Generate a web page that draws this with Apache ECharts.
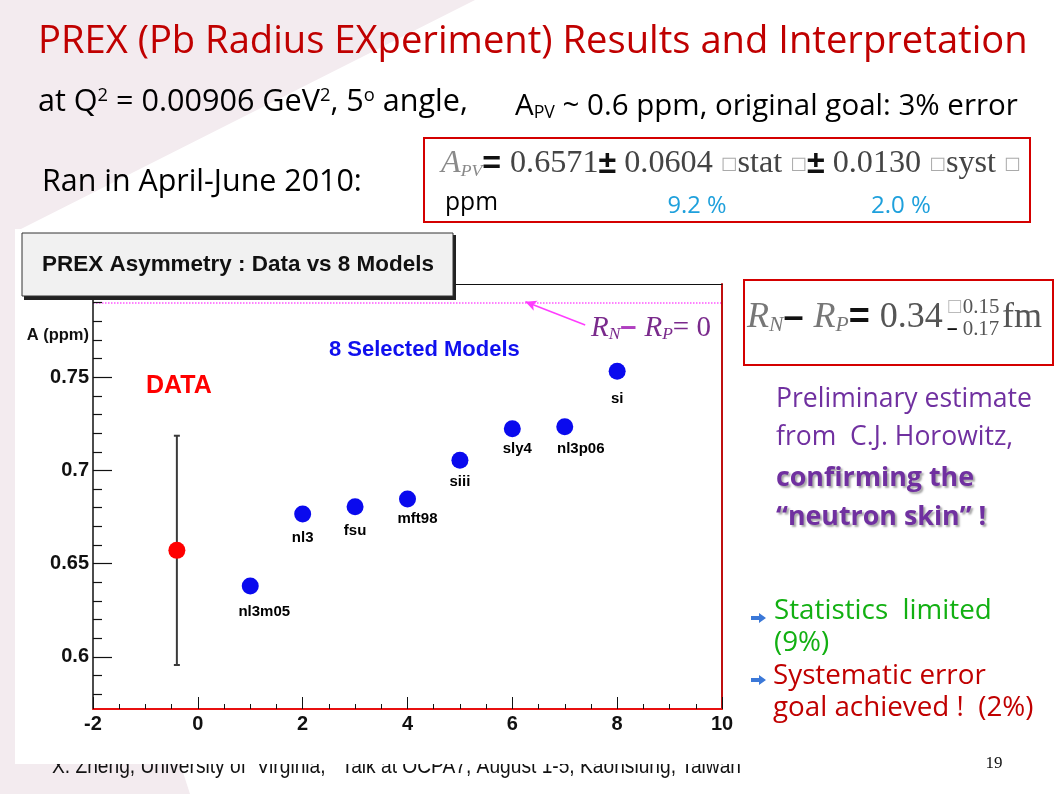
<!DOCTYPE html>
<html><head><meta charset="utf-8">
<script src="https://cdn.jsdelivr.net/npm/echarts@6.0.0/dist/echarts.min.js"></script>
<style>html,body{margin:0;padding:0;background:#fff}#c{width:1058px;height:794px}</style>
</head><body><div id="c"></div>
<script>
// ---------------- data ----------------
const modelNames = ['nl3m05', 'nl3', 'fsu', 'mft98', 'siii', 'sly4', 'nl3p06', 'si'];
const modelX = [1, 2, 3, 4, 5, 6, 7, 8];
const modelA = [0.6380, 0.6766, 0.6805, 0.6847, 0.7054, 0.7224, 0.7234, 0.7532];
const dataX = [-0.4];
const dataA = [0.6571];
const dataErr = [0.0615];
const zeroSkinA = 0.7912;            // A for R_N - R_P = 0
const arrowFrom = [7.39, 0.778];
const arrowTo = [6.25, 0.7905];
const xMin = -2, xMax = 10, xStep = 2;
const yMin = 0.572, yMax = 0.80;
const yMajorTicks = [0.6, 0.65, 0.7, 0.75];
const yMinorTicks = [0.58, 0.59, 0.61, 0.62, 0.63, 0.64, 0.66, 0.67, 0.68, 0.69,
                     0.71, 0.72, 0.73, 0.74, 0.76, 0.77, 0.78, 0.79];
// label offsets (style only)
const labelOffsets = [[14, 26], [0, 24], [0, 24], [10, 20], [0, 22], [5, 20], [16, 22], [0, 28]];

// ---------------- helpers ----------------
const mctx = document.createElement('canvas').getContext('2d');
function tokFont(tk, size) {
  return (tk.i ? 'italic ' : '') + (tk.b ? 'bold ' : '') + (size * (tk.r || 1)) + 'px ' + tk.f;
}
function measureTokens(tokens) {
  let w = 0;
  tokens.forEach(tk => { mctx.font = tokFont(tk, 100); w += mctx.measureText(tk.t).width; });
  return w;
}
function fitBase(tokens, targetW) { return 100 * targetW / measureTokens(tokens); }
function richText(tokens, base, extra) {
  const rich = {}; let text = '';
  tokens.forEach((tk, k) => {
    const key = 't' + k;
    rich[key] = Object.assign({
      fontFamily: tk.f, fontSize: base * (tk.r || 1),
      fontStyle: tk.i ? 'italic' : 'normal', fontWeight: tk.b ? 'bold' : 'normal',
      fill: tk.c, verticalAlign: tk.v || 'middle', padding: tk.p || 0
    }, extra || {});
    text += '{' + key + '|' + tk.t + '}';
  });
  return { text, rich };
}

const SF = "'Open Sans'";
const SERIF = "'Liberation Serif'";
const AF = "'Liberation Sans'";
const RED = '#c00000', PURPLE = '#7030a0', GREEN = '#12b012', CYAN = '#1ea0dc';

function plainFit(text, family, bold, targetW) {
  return fitBase([{ t: text, f: family, b: bold }], targetW);
}
function textEl(x, y, text, size, family, color, opts) {
  opts = opts || {};
  const el = {
    type: 'text', x: x, y: y, z: opts.z || 20, silent: true,
    style: Object.assign({
      text: text, fontSize: size, fontFamily: family, fill: color,
      fontWeight: opts.bold ? 'bold' : 'normal', fontStyle: opts.italic ? 'italic' : 'normal',
      align: opts.align || 'left', verticalAlign: opts.va || 'middle'
    }, opts.style || {})
  };
  if (opts.scaleX) el.scaleX = opts.scaleX;
  if (opts.scaleY) el.scaleY = opts.scaleY;
  return el;
}
function richEl(x, y, tokens, base, opts) {
  opts = opts || {};
  const r = richText(tokens, base);
  return {
    type: 'text', x: x, y: y, z: opts.z || 20, silent: true,
    style: { text: r.text, rich: r.rich, align: opts.align || 'left', verticalAlign: 'middle' }
  };
}

// ---------------- slide texts ----------------
const slideTitle = 'PREX (Pb Radius EXperiment) Results and Interpretation';
const titleSize = plainFit(slideTitle, SF, false, 990);

const q2Tokens = [
  { t: 'at Q', f: SF, c: '#000' }, { t: '2', f: SF, c: '#000', r: 0.6, v: 'top' },
  { t: ' = 0.00906 GeV', f: SF, c: '#000' }, { t: '2', f: SF, c: '#000', r: 0.6, v: 'top' },
  { t: ', 5', f: SF, c: '#000' }, { t: 'o', f: SF, c: '#000', r: 0.6, v: 'top' },
  { t: ' angle,', f: SF, c: '#000' }
];
const apvTokens = [
  { t: 'A', f: SF, c: '#000' }, { t: 'PV', f: SF, c: '#000', r: 0.6, v: 'bottom' },
  { t: ' ~ 0.6 ppm, original goal: 3% error', f: SF, c: '#000' }
];
const q2Size = fitBase(q2Tokens, 430);
const apvSize = fitBase(apvTokens, 503);
const ranText = 'Ran in April-June 2010:';
const ranSize = plainFit(ranText, SF, false, 320);

const formulaTokens = [
  { t: 'A', f: SERIF, i: true, c: '#8a8a8a' },
  { t: 'PV', f: SERIF, i: true, c: '#8a8a8a', r: 0.55, v: 'bottom' },
  { t: '= ', f: AF, b: true, c: '#111' },
  { t: '0.6571', f: SERIF, c: '#444' },
  { t: '\u00b1', f: AF, b: true, c: '#111' },
  { t: ' 0.0604 ', f: SERIF, c: '#444' },
  { t: '\u25a1', f: "'DejaVu Sans'", c: '#aaa', r: 0.55 },
  { t: 'stat ', f: SERIF, c: '#444' },
  { t: '\u25a1', f: "'DejaVu Sans'", c: '#aaa', r: 0.55 },
  { t: '\u00b1', f: AF, b: true, c: '#111' },
  { t: ' 0.0130 ', f: SERIF, c: '#444' },
  { t: '\u25a1', f: "'DejaVu Sans'", c: '#aaa', r: 0.55 },
  { t: 'syst ', f: SERIF, c: '#444' },
  { t: '\u25a1', f: "'DejaVu Sans'", c: '#aaa', r: 0.55 }
];
const formulaSize = fitBase(formulaTokens, 580);

const rnTokens = [
  { t: 'R', f: SERIF, i: true, c: '#777' },
  { t: 'N', f: SERIF, i: true, c: '#777', r: 0.6, v: 'bottom' },
  { t: '\u2013 ', f: AF, b: true, c: '#111' },
  { t: 'R', f: SERIF, i: true, c: '#777' },
  { t: 'P', f: SERIF, i: true, c: '#777', r: 0.6, v: 'bottom' },
  { t: '= ', f: AF, b: true, c: '#111' },
  { t: '0.34', f: SERIF, c: '#555' }
];
const rnSize = fitBase(rnTokens, 196);

const rn0Tokens = [
  { t: 'R', f: SERIF, i: true, c: '#7a2a8c' },
  { t: 'N', f: SERIF, i: true, c: '#7a2a8c', r: 0.6, v: 'bottom' },
  { t: '\u2013 ', f: AF, b: true, c: '#b040c0' },
  { t: 'R', f: SERIF, i: true, c: '#7a2a8c' },
  { t: 'P', f: SERIF, i: true, c: '#7a2a8c', r: 0.6, v: 'bottom' },
  { t: '= 0', f: SERIF, c: '#7a2a8c' }
];
const rn0Size = fitBase(rn0Tokens, 120);

const purpleSize = plainFit('Preliminary estimate', SF, false, 256);
const purpleBoldSize = plainFit('confirming the', SF, true, 198);
const bulletSize = (plainFit('Statistics  limited', SF, false, 225) + plainFit('goal achieved !  (2%)', SF, false, 252)) / 2;

const footerText = 'X. Zheng, University of  Virginia,   Talk at OCPA7, August 1-5, Kaohsiung, Taiwan';
const footerFont = 22;
const footerScaleX = plainFit(footerText, AF, false, 689) / footerFont;

const boxTitle = 'PREX Asymmetry : Data vs 8 Models';
const boxTitleSize = plainFit(boxTitle, AF, true, 392);

function arrowBullet(x, y) {
  return {
    type: 'polygon', z: 20, silent: true,
    shape: { points: [[x, y - 2], [x + 8, y - 2], [x + 8, y - 5], [x + 15, y], [x + 8, y + 5], [x + 8, y + 2], [x, y + 2]] },
    style: { fill: '#3b78d8' }
  };
}

const graphics = [
  // pink slide decoration
  { type: 'polygon', z: 0, silent: true,
    shape: { points: [[0, 0], [475, 0], [15, 232], [15, 763], [180, 763], [190, 794], [0, 794]] },
    style: { fill: '#f3ebef' } },
  // footer (partly hidden by the ROOT canvas)
  textEl(52, 778, footerText, footerFont, AF, '#111', { z: 1, va: 'alphabetic', scaleX: footerScaleX, style: { verticalAlign: 'bottom' } }),
  // ROOT canvas
  { type: 'rect', z: 2, silent: true, shape: { x: 15, y: 229, width: 727, height: 535 }, style: { fill: '#fff' } },
  // ROOT title box
  { type: 'rect', z: 19, silent: true, shape: { x: 24, y: 235, width: 432, height: 65 }, style: { fill: '#222' } },
  { type: 'rect', z: 20, silent: true, shape: { x: 22, y: 233, width: 431, height: 63 }, style: { fill: '#f1f1f1', stroke: '#333', lineWidth: 1 } },
  textEl(238, 265, boxTitle, boxTitleSize, AF, '#111', { bold: true, align: 'center', z: 21 }),
  // chart annotations
  textEl(89, 335, 'A (ppm)', 16.5, AF, '#111', { bold: true, align: 'right' }),
  textEl(329, 350, '8 Selected Models', 22, AF, '#1010ee', { bold: true }),
  textEl(146, 386, 'DATA', 25, AF, '#ff0000', { bold: true }),
  richEl(591, 328, rn0Tokens, rn0Size),
  // slide title + lines
  textEl(38, 42, slideTitle, titleSize, SF, RED),
  richEl(38, 102, q2Tokens, q2Size),
  richEl(515, 107, apvTokens, apvSize),
  textEl(42, 182, ranText, ranSize, SF, '#000'),
  // A_PV box
  { type: 'rect', z: 20, silent: true, shape: { x: 424, y: 138, width: 606, height: 84 }, style: { fill: 'none', stroke: '#d40000', lineWidth: 2 } },
  richEl(441, 164, formulaTokens, formulaSize),
  textEl(445, 203, 'ppm', plainFit('ppm', SF, false, 53), SF, '#000'),
  textEl(697, 206, '9.2 %', plainFit('9.2 %', SF, false, 59), SF, CYAN, { align: 'center' }),
  textEl(901, 206, '2.0 %', plainFit('2.0 %', SF, false, 60), SF, CYAN, { align: 'center' }),
  // R_N - R_P box
  { type: 'rect', z: 20, silent: true, shape: { x: 744, y: 280, width: 309, height: 85 }, style: { fill: 'none', stroke: '#d40000', lineWidth: 2 } },
  richEl(747, 318, rnTokens, rnSize),
  richEl(947, 307, [{ t: '\u25a1', f: "'DejaVu Sans'", c: '#bbb', r: 0.8 }, { t: '0.15', f: SERIF, c: '#555' }], rnSize * 0.58),
  richEl(947, 329, [{ t: '\u2013 ', f: AF, b: true, c: '#111', r: 0.9 }, { t: '0.17', f: SERIF, c: '#555' }], rnSize * 0.58),
  textEl(1002, 318, 'fm', rnSize, SERIF, '#555'),
  // purple comments
  textEl(776, 399, 'Preliminary estimate', purpleSize, SF, PURPLE),
  textEl(776, 437, 'from  C.J. Horowitz,', purpleSize, SF, PURPLE),
  textEl(776, 478, 'confirming the', purpleBoldSize, SF, PURPLE, { bold: true, style: { textShadowColor: 'rgba(0,0,0,0.35)', textShadowBlur: 2, textShadowOffsetX: 2, textShadowOffsetY: 2 } }),
  textEl(776, 517, '\u201cneutron skin\u201d !', purpleBoldSize, SF, PURPLE, { bold: true, style: { textShadowColor: 'rgba(0,0,0,0.35)', textShadowBlur: 2, textShadowOffsetX: 2, textShadowOffsetY: 2 } }),
  // bullets
  arrowBullet(751, 618),
  arrowBullet(751, 680),
  textEl(774, 611, 'Statistics  limited', bulletSize, SF, GREEN),
  textEl(774, 643, '(9%)', bulletSize, SF, GREEN),
  textEl(773, 676, 'Systematic error', bulletSize, SF, RED),
  textEl(773, 708, 'goal achieved !  (2%)', bulletSize, SF, RED),
  // page number
  textEl(994, 764, '19', 17, SERIF, '#111', { align: 'center' })
];

// ---------------- chart ----------------
const chart = echarts.init(document.getElementById('c'), null, { renderer: 'canvas' });
const axisFont = { fontFamily: AF, fontWeight: 'bold', fontSize: 20, color: '#111' };

const option = {
  animation: false,
  backgroundColor: '#ffffff',
  grid: { left: 93, right: 336, top: 284, bottom: 85, outerBoundsMode: 'none', show: false },
  xAxis: [
    { type: 'value', min: xMin, max: xMax, interval: xStep, z: 5,
      axisLine: { show: true, onZero: false, lineStyle: { color: '#e81010', width: 2 } },
      axisTick: { show: true, inside: true, length: 12, lineStyle: { color: '#111', width: 1 } },
      minorTick: { show: true, splitNumber: 4, length: 5, lineStyle: { color: '#111', width: 1 } },
      splitLine: { show: false },
      axisLabel: Object.assign({ margin: 5 }, axisFont) },
    { type: 'value', position: 'top', min: xMin, max: xMax, z: 5,
      axisLine: { show: true, onZero: false, lineStyle: { color: '#111', width: 1 } },
      axisTick: { show: false }, axisLabel: { show: false }, splitLine: { show: false } }
  ],
  yAxis: [
    { type: 'value', min: yMin, max: yMax, z: 5,
      axisLine: { show: true, onZero: false, lineStyle: { color: '#111', width: 1.5 } },
      axisTick: { show: true, inside: true, length: 19, customValues: yMajorTicks, lineStyle: { color: '#111', width: 1.2 } },
      axisLabel: Object.assign({ margin: 4, customValues: yMajorTicks }, axisFont),
      splitLine: { show: false } },
    { type: 'value', min: yMin, max: yMax, position: 'left', offset: 0, z: 5,
      axisLine: { show: false, onZero: false },
      axisTick: { show: true, inside: true, length: 9, customValues: yMinorTicks, lineStyle: { color: '#111', width: 1.2 } },
      axisLabel: { show: false }, splitLine: { show: false } },
    { type: 'value', min: yMin, max: yMax, position: 'right', z: 5,
      axisLine: { show: true, onZero: false, lineStyle: { color: '#c01010', width: 2 } },
      axisTick: { show: false }, axisLabel: { show: false }, splitLine: { show: false } }
  ],
  graphic: { elements: graphics },
  series: [
    {
      type: 'scatter', name: 'Models', z: 8,
      data: modelX.map((x, i) => ({ value: [x, modelA[i]], name: modelNames[i],
        label: { offset: labelOffsets[i] } })),
      symbol: 'circle', symbolSize: 17,
      itemStyle: { color: '#0a0aee', opacity: 1 },
      label: { show: true, position: 'inside', formatter: p => p.name,
        fontFamily: AF, fontWeight: 'bold', fontSize: 15, color: '#000', opacity: 1,
        textBorderWidth: 0 },
      markLine: {
        silent: true, symbol: 'none', animation: false,
        label: { show: false },
        lineStyle: { type: 'dotted', color: '#ff55ff', width: 1.5 },
        data: [{ yAxis: zeroSkinA }]
      }
    },
    {
      type: 'custom', name: 'err', z: 7,
      data: dataX.map((x, i) => [x, dataA[i], dataErr[i]]),
      renderItem: function (params, api) {
        const x = api.value(0), y = api.value(1), e = api.value(2);
        const t = api.coord([x, y + e]), b = api.coord([x, y - e]);
        const st = { stroke: '#3a3a3a', lineWidth: 2 };
        return { type: 'group', children: [
          { type: 'line', shape: { x1: t[0], y1: t[1], x2: b[0], y2: b[1] }, style: st },
          { type: 'line', shape: { x1: t[0] - 3, y1: t[1], x2: t[0] + 3, y2: t[1] }, style: st },
          { type: 'line', shape: { x1: b[0] - 3, y1: b[1], x2: b[0] + 3, y2: b[1] }, style: st }
        ] };
      }
    },
    {
      type: 'scatter', name: 'DATA', z: 9,
      data: dataX.map((x, i) => [x, dataA[i]]),
      symbol: 'circle', symbolSize: 17,
      itemStyle: { color: '#ff0000', opacity: 1 },
      markLine: {
        silent: true, animation: false, symbol: ['none', 'arrow'], symbolSize: [8, 11],
        label: { show: false },
        lineStyle: { type: 'solid', color: '#ff3cff', width: 1.5 },
        data: [[{ coord: arrowFrom }, { coord: arrowTo }]]
      }
    }
  ]
};
chart.setOption(option);
</script>
</body></html>
